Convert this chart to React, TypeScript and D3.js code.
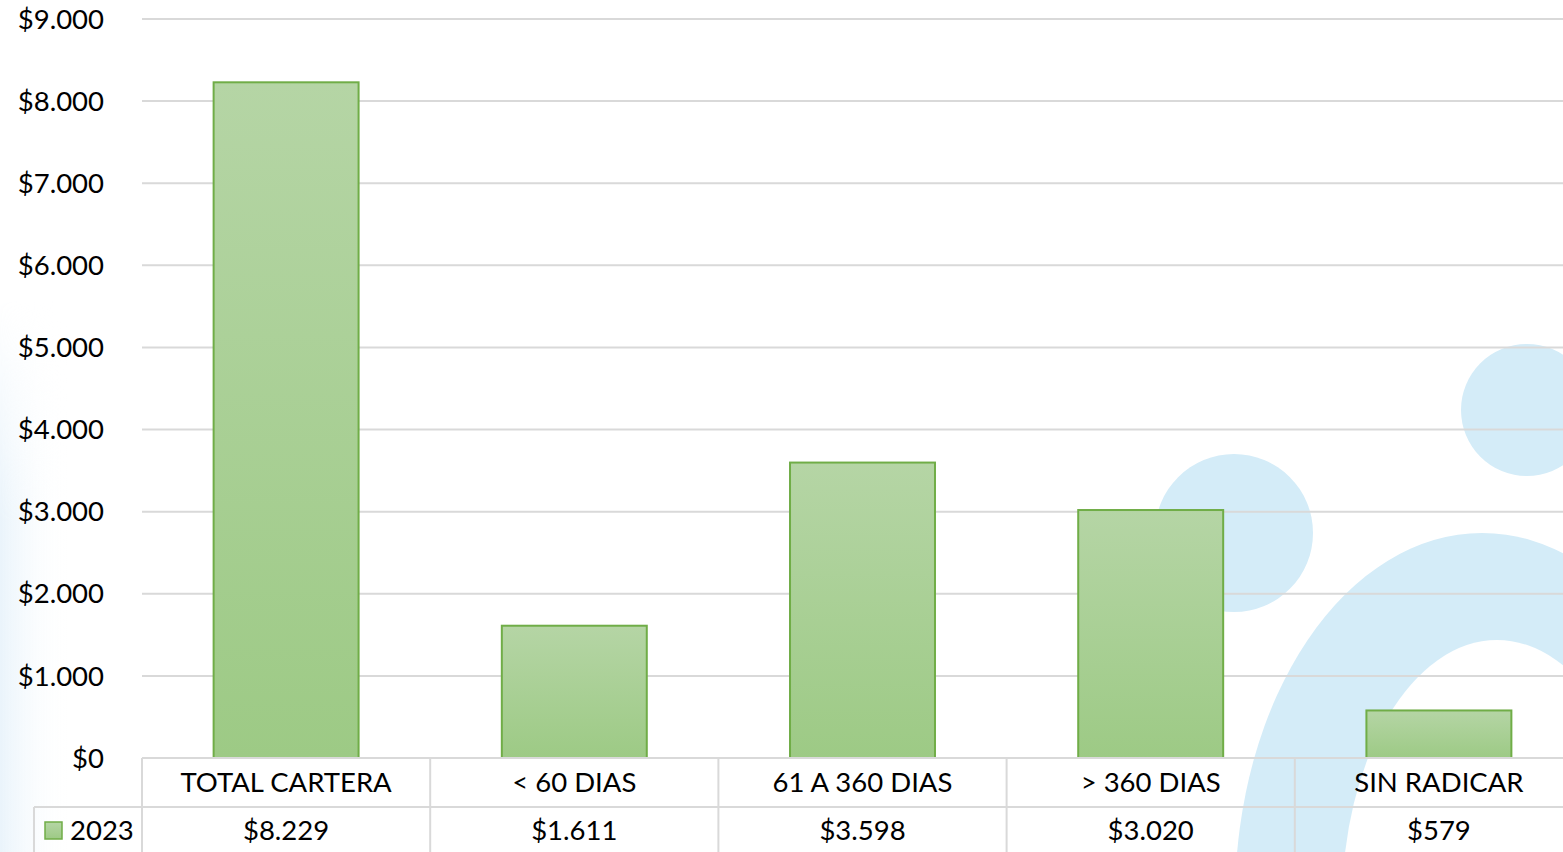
import React from "react";
import * as d3 from "d3";

const categories = ["TOTAL CARTERA", "< 60 DIAS", "61 A 360 DIAS", "> 360 DIAS", "SIN RADICAR"];
const values2023 = [8229, 1611, 3598, 3020, 579];
const seriesName = "2023";
const yTicks = [0, 1000, 2000, 3000, 4000, 5000, 6000, 7000, 8000, 9000];

const W = 1563;
const H = 852;
const FONT = "Lato, 'Open Sans', sans-serif";

const fmt = (v: number) => "$" + d3.format(",")(v).replace(/,/g, ".");

export default function App() {
  const left = 142;
  const right = 142 + 5 * 288.2;
  const top = 19;
  const bottom = 758;
  const row1 = 807;

  const x = d3.scaleBand<string>().domain(categories).range([left, right]).paddingInner(0.497).paddingOuter(0.2485);
  const band = d3.scaleBand<string>().domain(categories).range([left, right]).padding(0);
  const y = d3.scaleLinear().domain([0, 9000]).range([bottom, top]);

  return (
    <svg width={W} height={H} style={{ position: "absolute", left: 0, top: 0, background: "#fff" }} fontFamily={FONT}>
      <defs>
        <linearGradient id="barG" x1="0" y1="0" x2="0" y2="1">
          <stop offset="0" stopColor="#b5d5a5" />
          <stop offset="1" stopColor="#9dca85" />
        </linearGradient>
        <linearGradient id="leftG" x1="0" y1="0" x2="1" y2="0">
          <stop offset="0" stopColor="#eaf4fb" stopOpacity="1" />
          <stop offset="1" stopColor="#ffffff" stopOpacity="0" />
        </linearGradient>
        <linearGradient id="leftV" x1="0" y1="0" x2="0" y2="1">
          <stop offset="0" stopColor="#fff" stopOpacity="0" />
          <stop offset="0.4" stopColor="#fff" stopOpacity="1" />
          <stop offset="1" stopColor="#fff" stopOpacity="1" />
        </linearGradient>
        <mask id="leftMask">
          <rect x={0} y={300} width={80} height={552} fill="url(#leftV)" />
        </mask>
        <mask id="ringMask">
          <rect x={0} y={0} width={W} height={H} fill="#fff" />
          <ellipse cx={1497} cy={905} rx={155} ry={265} fill="#000" />
        </mask>
      </defs>
      {/* watermark */}
      <rect x={0} y={300} width={70} height={552} fill="url(#leftG)" mask="url(#leftMask)" />
      <circle cx={1527} cy={410} r={66} fill="#d4ecf8" />
      <circle cx={1234} cy={533} r={79} fill="#d4ecf8" />
      <ellipse cx={1482} cy={900} rx={247} ry={367} fill="#d4ecf8" mask="url(#ringMask)" />

      {/* gridlines */}
      {yTicks.map((t) => (
        <line key={t} x1={left} x2={right} y1={y(t)} y2={y(t)} stroke="#d9d9d9" strokeWidth={2} />
      ))}
      {yTicks.map((t) => (
        <text key={"l" + t} x={104} y={y(t)} dy="0.35em" textAnchor="end" fontSize={27.5} fill="#000">
          {fmt(t)}
        </text>
      ))}

      {/* bars */}
      {categories.map((c, i) => (
        <rect
          key={c}
          x={x(c)!}
          y={y(values2023[i])}
          width={x.bandwidth()}
          height={bottom - y(values2023[i])}
          fill="url(#barG)"
          stroke="#70ad47"
          strokeWidth={2}
        />
      ))}

      {/* data table */}
      <line x1={left} x2={right} y1={bottom} y2={bottom} stroke="#d9d9d9" strokeWidth={2} />
      <line x1={34} x2={right} y1={row1} y2={row1} stroke="#d9d9d9" strokeWidth={2} />
      <line x1={34} x2={34} y1={row1} y2={H} stroke="#d9d9d9" strokeWidth={2} />
      {categories.map((c) => (
        <line key={"v" + c} x1={band(c)!} x2={band(c)!} y1={bottom} y2={H} stroke="#d9d9d9" strokeWidth={2} />
      ))}
      {categories.map((c, i) => (
        <g key={"t" + c}>
          <text x={band(c)! + band.bandwidth() / 2} y={782} dy="0.35em" textAnchor="middle" fontSize={27.5} fill="#000">
            {c}
          </text>
          <text x={band(c)! + band.bandwidth() / 2} y={830} dy="0.35em" textAnchor="middle" fontSize={27.5} fill="#000">
            {fmt(values2023[i])}
          </text>
        </g>
      ))}
      <rect x={45} y={822} width={17} height={17} fill="url(#barG)" stroke="#70ad47" strokeWidth={1.5} />
      <text x={70} y={830} dy="0.35em" fontSize={27.5} fill="#000">
        {seriesName}
      </text>
    </svg>
  );
}
